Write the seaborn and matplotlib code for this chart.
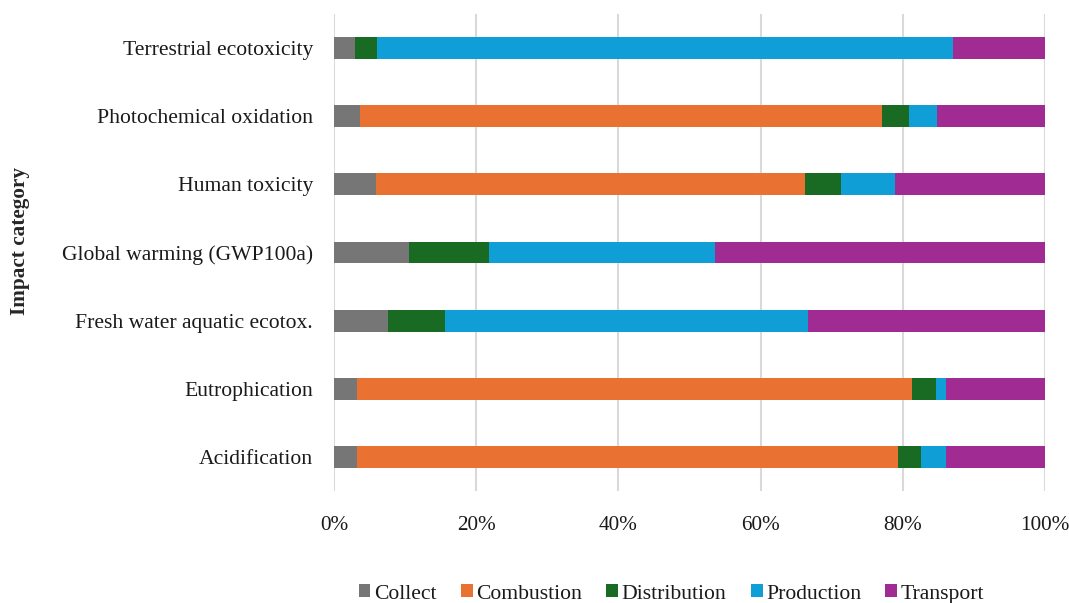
import pandas as pd
import seaborn as sns
import matplotlib.pyplot as plt
from matplotlib.patches import Patch

# Share of each life-cycle stage per impact category (%)
categories = ['Terrestrial ecotoxicity', 'Photochemical oxidation', 'Human toxicity',
              'Global warming (GWP100a)', 'Fresh water aquatic ecotox.',
              'Eutrophication', 'Acidification']
stages = ['Collect', 'Combustion', 'Distribution', 'Production', 'Transport']

collect = [3.0, 3.7, 5.9, 10.6, 7.6, 3.3, 3.3]
combustion = [0.0, 73.4, 60.3, 0.0, 0.0, 78.0, 76.0]
distribution = [3.1, 3.7, 5.1, 11.2, 8.0, 3.3, 3.3]
production = [81.0, 4.0, 7.6, 31.8, 51.0, 1.4, 3.4]
transport = [12.9, 15.2, 21.1, 46.4, 33.4, 14.0, 14.0]

colors = ['#767676', '#E97132', '#196B24', '#0F9ED5', '#A02B93']

df = pd.DataFrame({'category': categories, 'Collect': collect, 'Combustion': combustion,
                   'Distribution': distribution, 'Production': production,
                   'Transport': transport})
# running totals so each layer can be drawn on top of the previous one
cum = df[stages].cumsum(axis=1)
cum['category'] = df['category']

sns.set_style('white')
plt.rcParams['font.family'] = ['Liberation Serif', 'DejaVu Serif']

fig = plt.figure(figsize=(10.69, 6.03), dpi=100)
ax = fig.add_axes([0.3124, 0.1857, 0.6652, 0.7911])

for stage, col in reversed(list(zip(stages, colors))):
    sns.barplot(data=cum, x=stage, y='category', order=categories, color=col,
                width=0.32, edgecolor='none', linewidth=0, saturation=1, ax=ax)

ax.set_xlim(0, 100)
ax.set_ylim(6.5, -0.5)
ax.set_xticks(range(0, 101, 20))
ax.set_xticklabels([f'{t}%' for t in range(0, 101, 20)])
ax.xaxis.grid(True, color='#d9d9d9', linewidth=1.5)
ax.set_axisbelow(True)
for s in ax.spines.values():
    s.set_visible(False)
ax.tick_params(axis='y', length=0, pad=15, labelsize=15.6, labelcolor='#1a1a1a')
ax.tick_params(axis='x', length=0, pad=18, labelsize=15.3, labelcolor='#1a1a1a')
ax.set_xlabel('')
ax.set_ylabel('')

fig.text(0.019, 0.600, 'Impact category', rotation=90, ha='center', va='center',
         fontsize=15.3, fontweight='bold')

handles = [Patch(facecolor=c, edgecolor='none', label=s) for s, c in zip(stages, colors)]
fig.legend(handles=handles, loc='center', bbox_to_anchor=(0.628, 0.015), ncol=5,
           frameon=False, fontsize=15.6, handlelength=0.55, handleheight=0.55,
           handletextpad=0.15, columnspacing=1.13, labelcolor='#1a1a1a')

fig.savefig('out.png', dpi=100)
